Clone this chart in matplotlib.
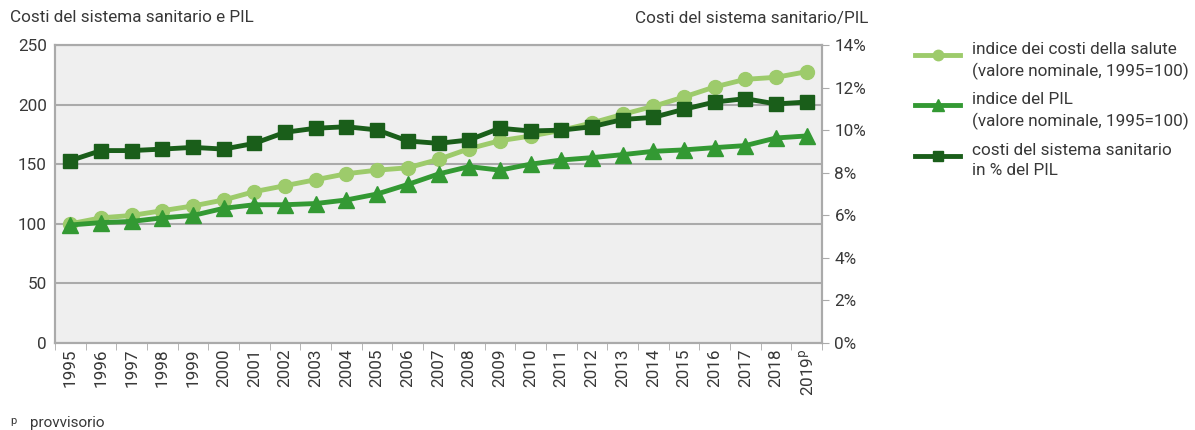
import numpy as np
import matplotlib
matplotlib.use('Agg')
import matplotlib.pyplot as plt
from matplotlib.lines import Line2D

plt.rcParams['font.family'] = ['Roboto', 'DejaVu Sans']

years = list(range(1995, 2020))
year_labels = [str(y) for y in years[:-1]] + ['2019$^\\mathrm{p}$']

costi_salute = [100, 105, 107, 111, 115, 120, 127, 132, 137, 142, 145, 147,
                154, 163, 169.7, 173.6, 178.4, 184.6, 191.8, 198.5, 206.4,
                214.8, 221.2, 222.9, 227.6]
pil = [99, 101, 102, 105, 107, 113, 116, 116, 117, 120, 125, 133,
       141.8, 148, 145, 150, 153.5, 155.5, 158, 160.8, 162, 163.9,
       165.6, 172, 173.7]
quota_pil = [8.57, 9.04, 9.04, 9.11, 9.19, 9.11, 9.38, 9.9, 10.09, 10.16,
             10.01, 9.49, 9.38, 9.54, 10.09, 9.96, 10.0, 10.16, 10.5, 10.6,
             10.98, 11.32, 11.48, 11.23, 11.32]

legend_labels = ['indice dei costi della salute\n(valore nominale, 1995=100)',
                 'indice del PIL\n(valore nominale, 1995=100)',
                 'costi del sistema sanitario\nin % del PIL']

light = '#9dcb6b'
mid = '#339933'
dark = '#1a5e1a'
grid_c = '#aaaaaa'
txt = '#383838'
fs = 12.3

W, H = 1195, 430
fig = plt.figure(figsize=(W / 100, H / 100), dpi=100)
ax = fig.add_axes([55 / W, 87 / H, 767 / W, 298 / H])
ax2 = ax.twinx()

ax.set_facecolor('#efefef')
ax.set_xlim(1994.5, 2019.5)
ax.set_ylim(0, 250)
ax2.set_ylim(0, 14)

ax.set_yticks([0, 50, 100, 150, 200, 250])
ax.yaxis.grid(True, color=grid_c, linewidth=1.5)
ax.set_axisbelow(True)
ax2.set_yticks(np.arange(0, 15, 2))
ax2.set_yticklabels([f'{v}%' for v in range(0, 15, 2)])

ax.set_xticks(years)
ax.set_xticklabels(year_labels, rotation=90)
ax.set_xticks(np.arange(1994.5, 2020, 1), minor=True)
ax.tick_params(axis='x', which='major', length=0, pad=4, labelsize=fs, labelcolor=txt)
ax.tick_params(axis='x', which='minor', length=5, color=grid_c)
ax.tick_params(axis='y', length=0, pad=6, labelsize=fs, labelcolor=txt)
ax2.tick_params(axis='y', length=5, color=grid_c, pad=4, labelsize=fs, labelcolor=txt)

for a in (ax, ax2):
    for s in a.spines.values():
        s.set_color(grid_c)
        s.set_linewidth(1.5)

series = [(ax, costi_salute, light, 'o', 10),
          (ax, pil, mid, '^', 11),
          (ax2, quota_pil, dark, 's', 10)]
for a, vals, c, m, ms in series:
    a.plot(years, vals, color=c, linewidth=3.5, marker=m, markersize=ms)

# legend drawn by hand so the key sits on the first text line
leg_y = [55, 105, 156]
for (a, vals, c, m, ms), lab, y in zip(series, legend_labels, leg_y):
    yf = 1 - y / H
    fig.add_artist(Line2D([915 / W, 960 / W], [yf, yf], transform=fig.transFigure,
                          color=c, linewidth=3.5))
    fig.add_artist(Line2D([937.5 / W], [yf], transform=fig.transFigure,
                          color=c, marker=m, markersize=ms * 0.75, linestyle='none'))
    fig.text(972 / W, 1 - (y - 13) / H, lab, fontsize=fs, color=txt,
             va='top', ha='left', linespacing=1.42)

fig.text(10 / W, 1 - 18 / H, 'Costi del sistema sanitario e PIL', fontsize=fs,
         color=txt, va='center', ha='left')
fig.text(868 / W, 1 - 18 / H, 'Costi del sistema sanitario/PIL', fontsize=fs,
         color=txt, va='center', ha='right')
fig.text(10 / W, 1 - 421 / H, 'p', fontsize=8, color=txt, va='center', ha='left')
fig.text(30 / W, 1 - 423 / H, 'provvisorio', fontsize=11, color=txt, va='center', ha='left')

fig.savefig('out.png', dpi=100)
